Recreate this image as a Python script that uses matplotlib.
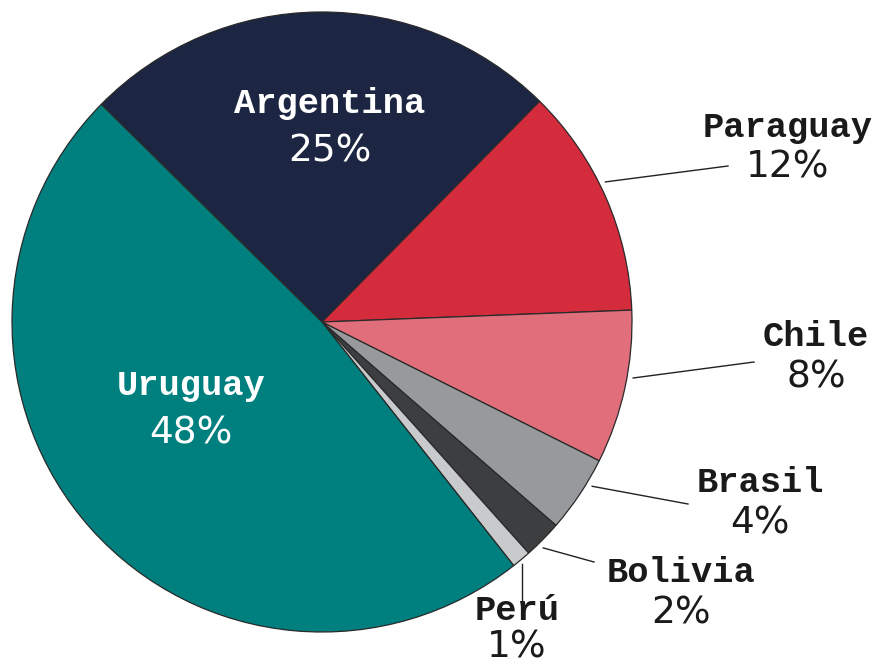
import matplotlib
matplotlib.use("Agg")
import matplotlib.pyplot as plt
import numpy as np

countries = ["Argentina", "Paraguay", "Chile", "Brasil", "Bolivia", "Perú", "Uruguay"]
shares = [25, 12, 8, 4, 2, 1, 48]
colors = ["#1c2542", "#d42b3d", "#e06f7b", "#98999c", "#3d3e40", "#c9cacc", "#007f7f"]

# label positions in pixel coords (x, y from top) - layout only
inside = {"Argentina": (330, 103), "Uruguay": (191, 385)}
outside = {
    # name centre, line end, angular offset of line start (deg), pct gap
    "Paraguay": ((788, 127), (728, 166), 2.5, 41),
    "Chile": ((816, 337), (754, 362), 2.0, 41),
    "Brasil": ((760, 483), (688, 504), 2.5, 41),
    "Bolivia": ((681, 572), (594, 562), -1.0, 41),
    "Perú": ((517, 610), (522, 603), 0.0, 37),
}

W, H = 883, 669
fig = plt.figure(figsize=(W / 100, H / 100), dpi=100)
ax = fig.add_axes([0, 0, 1, 1])

cx, cy, R = 322, H - 322, 310
wedges, _ = ax.pie(shares, colors=colors, startangle=135.4, counterclock=False,
                   center=(cx, cy), radius=R, frame=True,
                   wedgeprops=dict(edgecolor="#2a2a2a", linewidth=0.9))
ax.set_xlim(0, W)
ax.set_ylim(0, H)
ax.set_aspect("equal")
ax.axis("off")

name_font = dict(family="Liberation Mono", fontweight="bold", fontsize=25.5)
pct_font = dict(family="DejaVu Sans", fontsize=27)

for name, val, w in zip(countries, shares, wedges):
    if name in inside:
        x, y = inside[name]
        ax.text(x, H - y, name, ha="center", va="center", color="white", **name_font)
        ax.text(x, H - y - 49, f"{val}%", ha="center", va="center", color="white", **pct_font)
    else:
        (x, y), (ex, ey), off, gap = outside[name]
        ax.text(x, H - y, name, ha="center", va="center", color="#1a1a1a", **name_font)
        ax.text(x, H - y - gap, f"{val}%", ha="center", va="center", color="#1a1a1a", **pct_font)
        mid = np.deg2rad((w.theta1 + w.theta2) / 2 + off)
        sx, sy = cx + 1.02 * R * np.cos(mid), cy + 1.02 * R * np.sin(mid)
        if name == "Perú":
            sx = ex
        ax.plot([sx, ex], [sy, H - ey], color="#222222", linewidth=1.0)

fig.savefig("out.png", dpi=100, facecolor="white")
